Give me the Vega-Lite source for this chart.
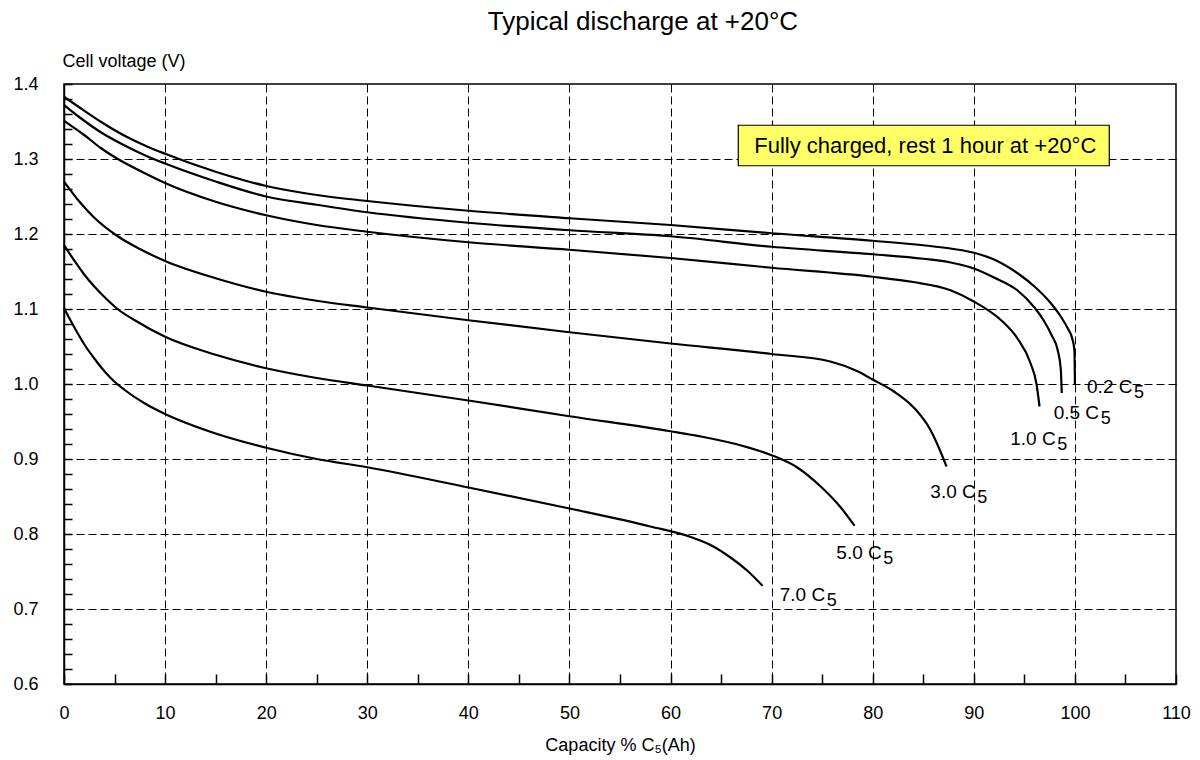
{
  "$schema": "https://vega.github.io/schema/vega-lite/v6.json",
  "width": 1112,
  "height": 600,
  "autosize": "none",
  "padding": {"left": 64, "top": 84, "right": 24, "bottom": 76},
  "background": "white",
  "config": {
    "font": "Liberation Sans",
    "view": {"stroke": "black", "strokeWidth": 1.5}
  },
  "title": {
    "text": "Typical discharge at +20°C",
    "fontSize": 26,
    "fontWeight": "normal",
    "color": "black",
    "font": "Liberation Sans",
    "anchor": "middle",
    "dx": 23,
    "offset": 17
  },
  "datasets": {
    "curves": [
      {"series": "0.2", "x": 0, "y": 1.383},
      {"series": "0.2", "x": 1.5, "y": 1.369},
      {"series": "0.2", "x": 3.6, "y": 1.35},
      {"series": "0.2", "x": 6, "y": 1.331},
      {"series": "0.2", "x": 8, "y": 1.318},
      {"series": "0.2", "x": 10, "y": 1.307},
      {"series": "0.2", "x": 15, "y": 1.283},
      {"series": "0.2", "x": 20, "y": 1.264},
      {"series": "0.2", "x": 25, "y": 1.252},
      {"series": "0.2", "x": 30, "y": 1.244},
      {"series": "0.2", "x": 40, "y": 1.231},
      {"series": "0.2", "x": 50, "y": 1.221},
      {"series": "0.2", "x": 60, "y": 1.212},
      {"series": "0.2", "x": 70, "y": 1.201},
      {"series": "0.2", "x": 80, "y": 1.191},
      {"series": "0.2", "x": 85, "y": 1.185},
      {"series": "0.2", "x": 88, "y": 1.18},
      {"series": "0.2", "x": 90, "y": 1.175},
      {"series": "0.2", "x": 92, "y": 1.166},
      {"series": "0.2", "x": 94.3, "y": 1.148},
      {"series": "0.2", "x": 96, "y": 1.13},
      {"series": "0.2", "x": 97.6, "y": 1.108},
      {"series": "0.2", "x": 98.6, "y": 1.09},
      {"series": "0.2", "x": 99.3, "y": 1.074},
      {"series": "0.2", "x": 99.75, "y": 1.06},
      {"series": "0.2", "x": 99.95, "y": 1.045},
      {"series": "0.2", "x": 100, "y": 1.0},
      {"series": "0.5", "x": 0, "y": 1.372},
      {"series": "0.5", "x": 1.5, "y": 1.356},
      {"series": "0.5", "x": 3.6, "y": 1.336},
      {"series": "0.5", "x": 6, "y": 1.318},
      {"series": "0.5", "x": 8, "y": 1.305},
      {"series": "0.5", "x": 10, "y": 1.294},
      {"series": "0.5", "x": 15, "y": 1.27},
      {"series": "0.5", "x": 20, "y": 1.25},
      {"series": "0.5", "x": 25, "y": 1.239},
      {"series": "0.5", "x": 30, "y": 1.229},
      {"series": "0.5", "x": 40, "y": 1.215},
      {"series": "0.5", "x": 50, "y": 1.205},
      {"series": "0.5", "x": 60, "y": 1.197},
      {"series": "0.5", "x": 70, "y": 1.183},
      {"series": "0.5", "x": 80, "y": 1.173},
      {"series": "0.5", "x": 85, "y": 1.167},
      {"series": "0.5", "x": 87.7, "y": 1.162},
      {"series": "0.5", "x": 90, "y": 1.154},
      {"series": "0.5", "x": 92, "y": 1.142},
      {"series": "0.5", "x": 94.3, "y": 1.125},
      {"series": "0.5", "x": 96, "y": 1.102},
      {"series": "0.5", "x": 96.9, "y": 1.085},
      {"series": "0.5", "x": 97.7, "y": 1.065},
      {"series": "0.5", "x": 98.3, "y": 1.045},
      {"series": "0.5", "x": 98.6, "y": 1.02},
      {"series": "0.5", "x": 98.7, "y": 0.988},
      {"series": "1.0", "x": 0, "y": 1.351},
      {"series": "1.0", "x": 2, "y": 1.332},
      {"series": "1.0", "x": 3.6, "y": 1.315},
      {"series": "1.0", "x": 5.2, "y": 1.301},
      {"series": "1.0", "x": 8, "y": 1.281},
      {"series": "1.0", "x": 10, "y": 1.268},
      {"series": "1.0", "x": 15, "y": 1.243},
      {"series": "1.0", "x": 20, "y": 1.225},
      {"series": "1.0", "x": 25, "y": 1.212},
      {"series": "1.0", "x": 30, "y": 1.203},
      {"series": "1.0", "x": 40, "y": 1.189},
      {"series": "1.0", "x": 50, "y": 1.179},
      {"series": "1.0", "x": 60, "y": 1.168},
      {"series": "1.0", "x": 70, "y": 1.155},
      {"series": "1.0", "x": 80, "y": 1.143},
      {"series": "1.0", "x": 84, "y": 1.136},
      {"series": "1.0", "x": 87.7, "y": 1.125},
      {"series": "1.0", "x": 90, "y": 1.11},
      {"series": "1.0", "x": 92.7, "y": 1.085},
      {"series": "1.0", "x": 94.3, "y": 1.061},
      {"series": "1.0", "x": 95.6, "y": 1.028},
      {"series": "1.0", "x": 96.2, "y": 1.0},
      {"series": "1.0", "x": 96.5, "y": 0.97},
      {"series": "3.0", "x": 0, "y": 1.27},
      {"series": "3.0", "x": 1.6, "y": 1.242},
      {"series": "3.0", "x": 2.9, "y": 1.223},
      {"series": "3.0", "x": 5.2, "y": 1.198},
      {"series": "3.0", "x": 7.5, "y": 1.18},
      {"series": "3.0", "x": 10, "y": 1.164},
      {"series": "3.0", "x": 15, "y": 1.141},
      {"series": "3.0", "x": 20, "y": 1.123},
      {"series": "3.0", "x": 25, "y": 1.111},
      {"series": "3.0", "x": 30, "y": 1.102},
      {"series": "3.0", "x": 40, "y": 1.085},
      {"series": "3.0", "x": 50, "y": 1.069},
      {"series": "3.0", "x": 60, "y": 1.054},
      {"series": "3.0", "x": 70, "y": 1.04},
      {"series": "3.0", "x": 75.8, "y": 1.03},
      {"series": "3.0", "x": 78.5, "y": 1.017},
      {"series": "3.0", "x": 80, "y": 1.006},
      {"series": "3.0", "x": 82.1, "y": 0.99},
      {"series": "3.0", "x": 84.1, "y": 0.968},
      {"series": "3.0", "x": 85.7, "y": 0.939},
      {"series": "3.0", "x": 86.7, "y": 0.91},
      {"series": "3.0", "x": 87.3, "y": 0.89},
      {"series": "5.0", "x": 0, "y": 1.185},
      {"series": "5.0", "x": 1, "y": 1.165},
      {"series": "5.0", "x": 2, "y": 1.146},
      {"series": "5.0", "x": 3, "y": 1.13},
      {"series": "5.0", "x": 4, "y": 1.116},
      {"series": "5.0", "x": 5.3, "y": 1.1},
      {"series": "5.0", "x": 7, "y": 1.085},
      {"series": "5.0", "x": 10, "y": 1.063},
      {"series": "5.0", "x": 15, "y": 1.039},
      {"series": "5.0", "x": 20, "y": 1.021},
      {"series": "5.0", "x": 25, "y": 1.008},
      {"series": "5.0", "x": 30, "y": 0.998},
      {"series": "5.0", "x": 40, "y": 0.978},
      {"series": "5.0", "x": 50, "y": 0.957},
      {"series": "5.0", "x": 60, "y": 0.937},
      {"series": "5.0", "x": 63, "y": 0.93},
      {"series": "5.0", "x": 67, "y": 0.918},
      {"series": "5.0", "x": 70, "y": 0.905},
      {"series": "5.0", "x": 72.5, "y": 0.889},
      {"series": "5.0", "x": 74.8, "y": 0.864},
      {"series": "5.0", "x": 76.8, "y": 0.836},
      {"series": "5.0", "x": 78.2, "y": 0.811},
      {"series": "7.0", "x": 0, "y": 1.101},
      {"series": "7.0", "x": 1, "y": 1.076},
      {"series": "7.0", "x": 2, "y": 1.053},
      {"series": "7.0", "x": 3, "y": 1.034},
      {"series": "7.0", "x": 4, "y": 1.017},
      {"series": "7.0", "x": 5, "y": 1.003},
      {"series": "7.0", "x": 6, "y": 0.992},
      {"series": "7.0", "x": 8, "y": 0.974},
      {"series": "7.0", "x": 10, "y": 0.96},
      {"series": "7.0", "x": 15, "y": 0.934},
      {"series": "7.0", "x": 20, "y": 0.915},
      {"series": "7.0", "x": 25, "y": 0.9},
      {"series": "7.0", "x": 30, "y": 0.889},
      {"series": "7.0", "x": 40, "y": 0.862},
      {"series": "7.0", "x": 50, "y": 0.834},
      {"series": "7.0", "x": 58, "y": 0.81},
      {"series": "7.0", "x": 62, "y": 0.796},
      {"series": "7.0", "x": 64, "y": 0.785},
      {"series": "7.0", "x": 66, "y": 0.768},
      {"series": "7.0", "x": 67.6, "y": 0.751},
      {"series": "7.0", "x": 69.1, "y": 0.731}
    ],
    "labels": [
      {"x": 101.2, "y": 0.996, "text": "0.2 C"},
      {"x": 97.9, "y": 0.961, "text": "0.5 C"},
      {"x": 93.6, "y": 0.927, "text": "1.0 C"},
      {"x": 85.7, "y": 0.856, "text": "3.0 C"},
      {"x": 76.4, "y": 0.775, "text": "5.0 C"},
      {"x": 70.8, "y": 0.719, "text": "7.0 C"}
    ],
    "box": [
      {"x": 66.7, "x2": 103.4, "y": 1.291, "y2": 1.345, "xc": 85.2, "yc": 1.318, "text": "Fully charged, rest 1 hour at +20°C"}
    ]
  },
  "layer": [
    {
      "data": {"name": "curves"},
      "mark": {"type": "line", "color": "black", "strokeWidth": 2.2, "interpolate": "monotone"},
      "encoding": {
        "x": {
          "field": "x", "type": "quantitative",
          "scale": {"domain": [0, 110], "nice": false, "zero": false},
          "axis": {
            "title": "Capacity % C₅(Ah)",
            "titleFontSize": 18, "titleFontWeight": "normal", "titleColor": "black",
            "titleY": 61, "titleBaseline": "middle",
            "values": [0,5,10,15,20,25,30,35,40,45,50,55,60,65,70,75,80,85,90,95,100,105,110],
            "tickCount": 100,
            "labelExpr": "datum.value % 10 == 0 ? datum.label : ''",
            "labelFontSize": 18, "labelColor": "black", "labelPadding": 30,
            "labelOverlap": false, "labelFlush": false,
            "tickSize": -10, "tickColor": "black", "tickWidth": 1.5,
            "domainColor": "black", "domainWidth": 1.5,
            "grid": true, "gridColor": "black", "gridDash": [8, 4], "gridWidth": 1,
            "gridOpacity": {"condition": {"test": "datum.value % 10 == 0 && datum.value > 0 && datum.value < 110", "value": 1}, "value": 0}
          }
        },
        "y": {
          "field": "y", "type": "quantitative",
          "scale": {"domain": [0.6, 1.4], "nice": false, "zero": false},
          "axis": {
            "title": "Cell voltage (V)",
            "titleFontSize": 18, "titleFontWeight": "normal", "titleColor": "black",
            "titleAngle": 0, "titleAlign": "left", "titleBaseline": "middle",
            "titleX": -2, "titleY": -23,
            "values": [0.6,0.62,0.64,0.66,0.68,0.7,0.72,0.74,0.76,0.78,0.8,0.82,0.84,0.86,0.88,0.9,0.92,0.94,0.96,0.98,1.0,1.02,1.04,1.06,1.08,1.1,1.12,1.14,1.16,1.18,1.2,1.22,1.24,1.26,1.28,1.3,1.32,1.34,1.36,1.38,1.4],
            "tickCount": 100,
            "labelExpr": "abs(datum.value*10 - round(datum.value*10)) < 0.001 ? format(datum.value, '.1f') : ''",
            "labelFontSize": 18, "labelColor": "black", "labelPadding": 34,
            "labelOverlap": false, "labelFlush": false,
            "tickSize": -8, "tickColor": "black", "tickWidth": 1.5,
            "domainColor": "black", "domainWidth": 1.5,
            "grid": true, "gridColor": "black", "gridDash": [8, 4], "gridWidth": 1,
            "gridOpacity": {"condition": {"test": "abs(datum.value*10 - round(datum.value*10)) < 0.001 && datum.value > 0.61 && datum.value < 1.39", "value": 1}, "value": 0}
          }
        },
        "detail": {"field": "series", "type": "nominal"}
      }
    },
    {
      "data": {"name": "box"},
      "mark": {"type": "rect", "fill": "#ffff66", "stroke": "black", "strokeWidth": 1.2},
      "encoding": {
        "x": {"field": "x", "type": "quantitative"},
        "x2": {"field": "x2"},
        "y": {"field": "y", "type": "quantitative"},
        "y2": {"field": "y2"}
      }
    },
    {
      "data": {"name": "box"},
      "mark": {"type": "text", "fontSize": 22, "color": "black", "align": "center", "baseline": "middle", "font": "Liberation Sans"},
      "encoding": {
        "x": {"field": "xc", "type": "quantitative"},
        "y": {"field": "yc", "type": "quantitative"},
        "text": {"field": "text"}
      }
    },
    {
      "data": {"name": "labels"},
      "mark": {"type": "text", "fontSize": 19, "color": "black", "align": "left", "baseline": "middle", "font": "Liberation Sans"},
      "encoding": {
        "x": {"field": "x", "type": "quantitative"},
        "y": {"field": "y", "type": "quantitative"},
        "text": {"field": "text"}
      }
    },
    {
      "data": {"name": "labels"},
      "mark": {"type": "text", "fontSize": 18, "color": "black", "align": "left", "baseline": "middle", "dx": 47, "dy": 6, "font": "Liberation Sans"},
      "encoding": {
        "x": {"field": "x", "type": "quantitative"},
        "y": {"field": "y", "type": "quantitative"},
        "text": {"value": "5"}
      }
    }
  ]
}
